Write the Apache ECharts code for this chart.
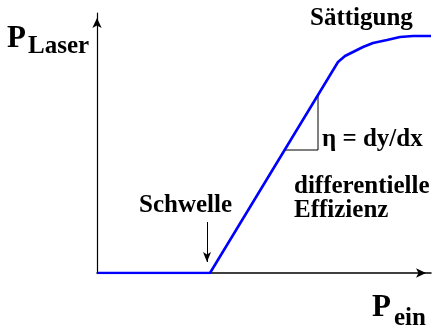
<!DOCTYPE html>
<html><head><meta charset="utf-8">
<script src="https://cdn.jsdelivr.net/npm/echarts@6/dist/echarts.min.js"></script>
<style>html,body{margin:0;padding:0;background:#fff}#c{width:432px;height:330px}</style>
</head><body><div id="c"></div>
<script>
// Laser characteristic (arbitrary units)
const curveX = [0, 113, 241, 248, 256, 266, 276, 290, 303, 316, 334];
const curveY = [0, 0, 211, 217, 221, 226, 230, 233, 236, 237, 237];
// slope triangle (eta = dy/dx)
const slopeX = [188, 221, 221];
const slopeY = [123, 123, 178];
// threshold arrow
const thresholdX = 110;
const thresholdArrowY = [51, 11];
const xMax = 334, yMax = 260;

const serif = "'Liberation Serif', 'Times New Roman', serif";
function txt(text, x, y, size) {
  return { type: 'text', x: x, y: y, style: { text: text, fill: '#000',
    fontFamily: serif, fontWeight: 'bold', fontSize: size,
    verticalAlign: 'middle', align: 'left' } };
}

const chart = echarts.init(document.getElementById('c'), null, {renderer: 'canvas'});
chart.setOption({
  animation: false,
  backgroundColor: '#fff',
  grid: { left: 97, right: 1, top: 13, bottom: 57 },
  xAxis: { type: 'value', min: 0, max: xMax, splitLine: {show: false},
    axisTick: {show: false}, axisLabel: {show: false},
    axisLine: { show: true, onZero: false, symbol: ['none', 'arrow'], symbolSize: [7, 10], symbolOffset: [0, -5],
      lineStyle: { color: '#000', width: 1.5 } } },
  yAxis: { type: 'value', min: 0, max: yMax, splitLine: {show: false},
    axisTick: {show: false}, axisLabel: {show: false},
    axisLine: { show: true, onZero: false, symbol: ['none', 'arrow'], symbolSize: [7, 10], symbolOffset: [0, -5],
      lineStyle: { color: '#000', width: 1.2 } } },
  series: [
    { type: 'line', data: curveX.map((x, i) => [x, curveY[i]]), symbol: 'none', z: 5,
      lineStyle: { color: '#0000ff', width: 2.6 } },
    { type: 'line', data: slopeX.map((x, i) => [x, slopeY[i]]), symbol: 'none', z: 3,
      lineStyle: { color: '#000', width: 1 } },
    { type: 'line', data: [], symbol: 'none',
      markLine: { silent: true, symbol: ['none', 'arrow'], symbolSize: [6, 10], label: {show: false},
        lineStyle: { color: '#000', width: 1, type: 'solid' },
        data: [[{coord: [thresholdX, thresholdArrowY[0]]}, {coord: [thresholdX, thresholdArrowY[1]]}]] } }
  ],
  graphic: [
    txt('P', 7, 39, 31),
    txt('Laser', 28, 47, 25),
    txt('Sättigung', 310, 19, 25),
    txt('η = dy/dx', 322, 140, 25),
    txt('differentielle', 294, 187, 25),
    txt('Effizienz', 294, 211, 25),
    txt('Schwelle', 139, 206, 25),
    txt('P', 372, 308, 31),
    txt('ein', 394, 319, 25)
  ]
});
</script></body></html>
